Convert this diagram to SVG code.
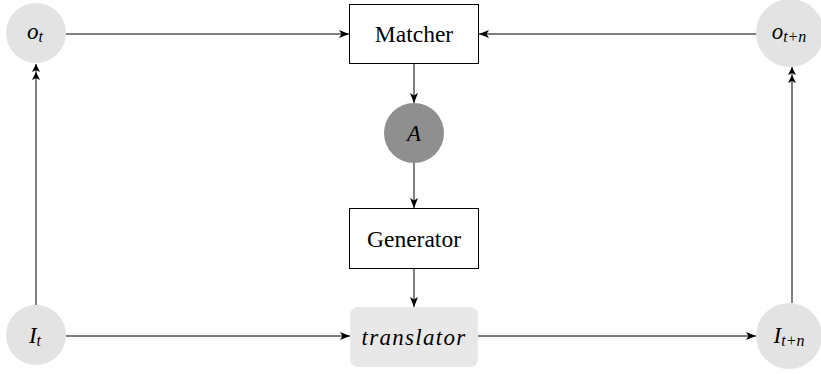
<svg xmlns="http://www.w3.org/2000/svg" width="821" height="374" viewBox="0 0 821 374">
  <style>
    .conn { stroke: #000; stroke-width: 1; fill: none; }
    .state { fill: #e3e3e3; stroke: none; }
    .box { fill: #fff; stroke: #000; stroke-width: 1; }
    .label { font-family: "Liberation Serif", "Times New Roman", serif; font-size: 23.5px; fill: #000; }
    .math { font-family: "Liberation Serif", "Times New Roman", serif; font-style: italic; font-size: 23px; fill: #000; }
    .sub { font-size: 16px; }
  </style>
  <defs>
    <marker id="head" viewBox="0 0 10 8" refX="10" refY="4" markerWidth="10" markerHeight="8" markerUnits="userSpaceOnUse" orient="auto">
      <path d="M0,0 L10,4 L0,8 L2.5,4 Z" fill="#000"/>
    </marker>
    <marker id="dhead" viewBox="0 0 16 8" refX="16" refY="4" markerWidth="16" markerHeight="8" markerUnits="userSpaceOnUse" orient="auto">
      <path d="M0,0 L8,4 L0,8 L2,4 Z M8,0 L16,4 L8,8 L10,4 Z" fill="#000"/>
    </marker>
  </defs>

  <g id="connectors">
    <line class="conn" x1="66" y1="34" x2="349" y2="34" marker-end="url(#head)"/>
    <line class="conn" x1="757" y1="34" x2="479" y2="34" marker-end="url(#head)"/>
    <line class="conn" x1="414" y1="64" x2="414" y2="103" marker-end="url(#head)"/>
    <line class="conn" x1="414" y1="163" x2="414" y2="208" marker-end="url(#head)"/>
    <line class="conn" x1="414" y1="269" x2="414" y2="307" marker-end="url(#head)"/>
    <line class="conn" x1="66" y1="336" x2="350" y2="336" marker-end="url(#head)"/>
    <line class="conn" x1="478" y1="336" x2="756" y2="336" marker-end="url(#head)"/>
    <line class="conn" x1="36" y1="305" x2="36" y2="64" marker-end="url(#dhead)"/>
    <line class="conn" x1="792" y1="303" x2="792" y2="67" marker-end="url(#dhead)"/>
  </g>

  <g id="o_t">
    <circle class="state" cx="36" cy="33" r="30"/>
    <text class="math" x="35" y="39" text-anchor="middle">o<tspan class="sub" dy="3">t</tspan></text>
  </g>

  <g id="o_tn">
    <circle class="state" cx="790" cy="33" r="34"/>
    <text class="math" x="789" y="39" text-anchor="middle">o<tspan class="sub" dy="3">t+n</tspan></text>
  </g>

  <g id="matcher">
    <rect class="box" x="349.5" y="4.5" width="129" height="59"/>
    <text class="label" x="414" y="42" text-anchor="middle">Matcher</text>
  </g>

  <g id="A">
    <circle cx="414" cy="133" r="30" fill="#8f8f8f"/>
    <text class="math" x="414" y="141" text-anchor="middle">A</text>
  </g>

  <g id="generator">
    <rect class="box" x="349.5" y="208.5" width="129" height="60"/>
    <text class="label" x="414" y="247" text-anchor="middle">Generator</text>
  </g>

  <g id="translator">
    <rect x="350" y="307" width="128" height="60" rx="8" ry="8" fill="#e8e8e8"/>
    <text class="math" x="414" y="345" text-anchor="middle" letter-spacing="1.3">translator</text>
  </g>

  <g id="I_t">
    <circle class="state" cx="36" cy="335" r="30"/>
    <text class="math" x="35" y="343" text-anchor="middle">I<tspan class="sub" dy="3">t</tspan></text>
  </g>

  <g id="I_tn">
    <circle class="state" cx="789" cy="336" r="33"/>
    <text class="math" x="789" y="343" text-anchor="middle">I<tspan class="sub" dy="3">t+n</tspan></text>
  </g>
</svg>
